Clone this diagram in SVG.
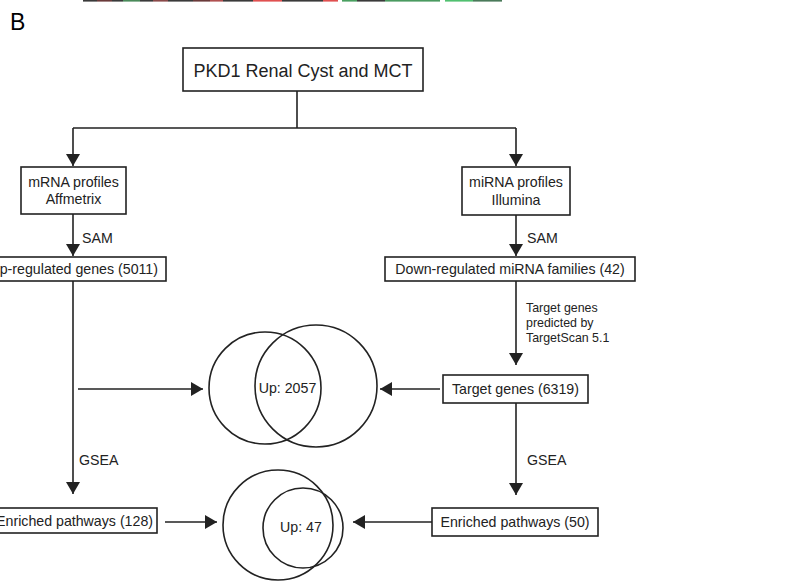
<svg xmlns="http://www.w3.org/2000/svg" width="802" height="584" viewBox="0 0 802 584">
<style>
.box{fill:#fff;stroke:#222;stroke-width:1.6}
.t{font-family:"Liberation Sans",Arial,sans-serif;font-size:14.2px;fill:#222}
.s{font-family:"Liberation Sans",Arial,sans-serif;font-size:12.4px;fill:#222}
.ln{fill:none;stroke:#222;stroke-width:1.6}
.circ{fill:none;stroke:#222;stroke-width:1.6}
</style>
<defs>
<marker id="ah" viewBox="0 0 12 14" refX="12" refY="7" markerWidth="12" markerHeight="14" markerUnits="userSpaceOnUse" orient="auto">
<path d="M0,0 L12,7 L0,14 Z" fill="#222"/>
</marker>
</defs>
<rect width="802" height="584" fill="#fff"/>
<g id="topbar">
<rect x="83" y="0" width="14" height="1.6" fill="#3a3a3a"/>
<rect x="97" y="0" width="15" height="1.6" fill="#6a3a3a"/>
<rect x="112" y="0" width="11" height="1.6" fill="#3a3a3a"/>
<rect x="123" y="0" width="17" height="1.6" fill="#4a8a5a"/>
<rect x="140" y="0" width="13" height="1.6" fill="#3a3a3a"/>
<rect x="153" y="0" width="15" height="1.6" fill="#8a4a4a"/>
<rect x="168" y="0" width="25" height="1.6" fill="#3a3a3a"/>
<rect x="193" y="0" width="17" height="1.6" fill="#6a3a3a"/>
<rect x="210" y="0" width="13" height="1.6" fill="#b05050"/>
<rect x="223" y="0" width="30" height="1.6" fill="#3a3a3a"/>
<rect x="253" y="0" width="29" height="1.6" fill="#e05050"/>
<rect x="282" y="0" width="41" height="1.6" fill="#3a3a3a"/>
<rect x="323" y="0" width="15" height="1.6" fill="#e05050"/>
<rect x="342" y="0" width="15" height="1.6" fill="#4aa060"/>
<rect x="357" y="0" width="28" height="1.6" fill="#3a3a3a"/>
<rect x="385" y="0" width="55" height="1.6" fill="#4a9a60"/>
<rect x="445" y="0" width="28" height="1.6" fill="#50c070"/>
<rect x="473" y="0" width="29" height="1.6" fill="#4a7a5a"/>
</g>
<text x="10" y="30" font-family="'Liberation Sans',Arial,sans-serif" font-size="23" fill="#000">B</text>
<g id="connectors">
<path class="ln" d="M297,91 V128 M73,128 H516"/>
<path class="ln" d="M73,128 V166" marker-end="url(#ah)"/>
<path class="ln" d="M516,128 V166" marker-end="url(#ah)"/>
<path class="ln" d="M73,214 V256" marker-end="url(#ah)"/>
<path class="ln" d="M516,215 V256" marker-end="url(#ah)"/>
<path class="ln" d="M516,281 V365" marker-end="url(#ah)"/>
<path class="ln" d="M73,281 V494" marker-end="url(#ah)"/>
<path class="ln" d="M516,403 V495" marker-end="url(#ah)"/>
<path class="ln" d="M78,389 H203" marker-end="url(#ah)"/>
<path class="ln" d="M440,389 H380" marker-end="url(#ah)"/>
<path class="ln" d="M165,522 H217" marker-end="url(#ah)"/>
<path class="ln" d="M432,522 H353" marker-end="url(#ah)"/>
<text class="t" x="82" y="243">SAM</text>
<text class="t" x="527" y="243">SAM</text>
<text class="s" x="526" y="312">Target genes</text>
<text class="s" x="526" y="327">predicted by</text>
<text class="s" x="526" y="342">TargetScan 5.1</text>
<text class="t" x="79" y="465">GSEA</text>
<text class="t" x="527" y="465">GSEA</text>
</g>
<g id="n-top">
<rect class="box" x="183" y="48" width="240" height="43"/>
<text x="303" y="77" text-anchor="middle" font-family="'Liberation Sans',Arial,sans-serif" font-size="18" fill="#222">PKD1 Renal Cyst and MCT</text>
</g>
<g id="n-mrna">
<rect class="box" x="21" y="167" width="105" height="47"/>
<text class="t" x="73.5" y="187" text-anchor="middle">mRNA profiles</text>
<text class="t" x="73.5" y="204" text-anchor="middle">Affmetrix</text>
</g>
<g id="n-mirna">
<rect class="box" x="462" y="167" width="108" height="48"/>
<text class="t" x="516" y="187" text-anchor="middle">miRNA profiles</text>
<text class="t" x="516" y="205" text-anchor="middle">Illumina</text>
</g>
<g id="n-up">
<rect class="box" x="-20" y="257" width="186" height="24"/>
<text class="t" x="158" y="274" text-anchor="end">Up-regulated genes (5011)</text>
</g>
<g id="n-down">
<rect class="box" x="385" y="257" width="250" height="24"/>
<text class="t" x="510" y="274" text-anchor="middle">Down-regulated miRNA families (42)</text>
</g>
<g id="n-target">
<rect class="box" x="443" y="375" width="145" height="28"/>
<text class="t" x="515.5" y="394" text-anchor="middle">Target genes (6319)</text>
</g>
<g id="n-enr128">
<rect class="box" x="-20" y="508" width="177" height="25"/>
<text class="t" x="153" y="526" text-anchor="end">Enriched pathways (128)</text>
</g>
<g id="n-enr50">
<rect class="box" x="432" y="508" width="166" height="28"/>
<text class="t" x="515" y="527" text-anchor="middle">Enriched pathways (50)</text>
</g>
<g id="venn1">
<circle class="circ" cx="265" cy="388" r="56"/>
<circle class="circ" cx="316" cy="386" r="61"/>
<text class="t" x="287.5" y="393" text-anchor="middle">Up: 2057</text>
</g>
<g id="venn2">
<circle class="circ" cx="278" cy="525" r="55"/>
<circle class="circ" cx="303" cy="528" r="40"/>
<text class="t" x="301" y="532" text-anchor="middle">Up: 47</text>
</g>
</svg>
